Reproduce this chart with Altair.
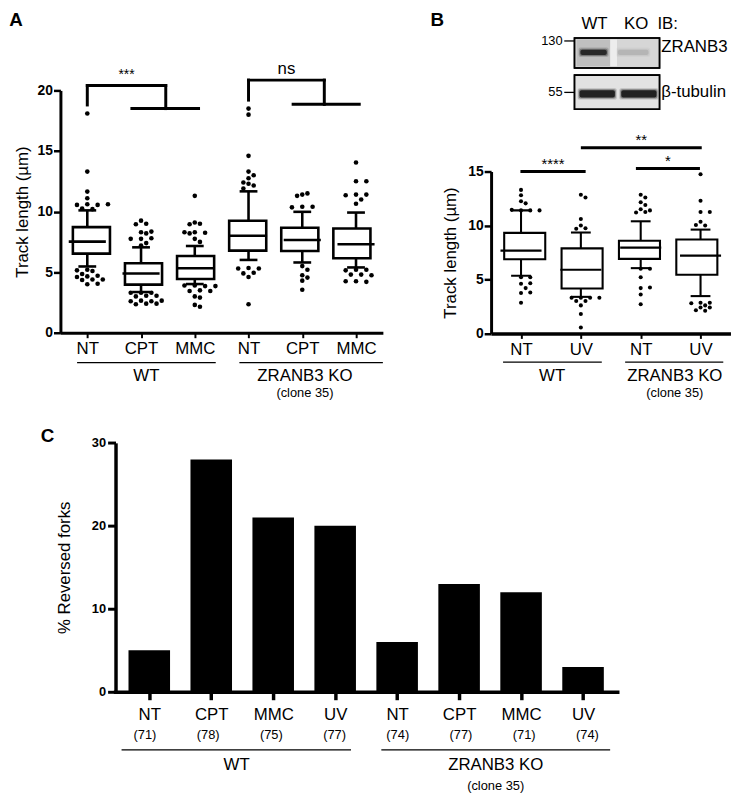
import json
import altair as alt
import pandas as pd

FONT = "Liberation Sans"
W, H = 736, 787


def P(v):
    """page pixel -> plot pixel (page has an 8px margin)"""
    return v - 8


# ---------------- Panel A : track length, CPT / MMC ----------------
a_treat = ["NT", "CPT", "MMC", "NT", "CPT", "MMC"]
a_wlo = [5.47, 3.36, 4.02, 6.01, 5.80, 5.39]
a_q1 = [6.53, 3.97, 4.43, 6.78, 6.75, 6.15]
a_med = [7.52, 4.89, 5.33, 8.00, 7.66, 7.30]
a_q3 = [8.72, 5.74, 6.34, 9.24, 8.66, 8.60]
a_whi = [10.10, 7.05, 7.16, 11.67, 9.98, 9.92]
a_out = [
    [18.1, 13.3, 11.65, 11.1, 10.6, 10.55, 10.55, 10.6, 10.2, 10.25,
     5.2, 5.1, 5.15, 4.85, 4.65, 4.7, 4.6, 4.4, 4.35, 4.4, 4.0, 4.05],
    [9.25, 9.0, 8.95, 8.3, 8.2, 8.35, 7.75, 7.8, 7.75, 7.4, 7.2,
     3.3, 3.3, 3.3, 3.05, 3.0, 3.05, 2.65, 2.6, 2.6, 2.65, 2.4, 2.35, 2.4],
    [11.3, 9.1, 9.0, 8.95, 8.3, 8.25, 8.3, 8.2, 7.75, 7.5,
     3.9, 3.85, 3.9, 3.85, 3.5, 3.45, 3.45, 3.0, 2.9, 2.3, 2.15],
    [18.5, 18.0, 14.6, 13.3, 13.0, 12.75, 12.3, 12.15, 12.4, 11.9,
     5.35, 5.3, 5.3, 4.95, 4.9, 4.6, 2.35],
    [11.4, 11.5, 11.3, 10.4, 10.4, 10.35,
     5.5, 5.2, 4.75, 4.55, 4.3, 3.55],
    [14.05, 12.5, 12.5, 11.4, 11.4, 11.35, 11.0, 10.65,
     5.2, 5.2, 5.15, 4.8, 4.8, 4.75, 4.25, 4.2, 4.25],
]
a_sig_label = ["***", "ns"]
a_sig_left = [1.0, 4.0]
a_sig_join = [2.46, 5.41]
a_sig_top = [20.4, 20.85]
a_sig_leg_bottom = [18.8, 19.2]
a_sig_bar = [18.5, 18.85]
a_sig_bar_from = [1.83, 4.83]
a_sig_bar_to = [3.07, 6.06]
a_groups = ["WT", "ZRANB3 KO"]
a_group_from = [0.81, 3.83]
a_group_to = [3.39, 6.5]
a_group_text_x = [2.1, 5.05]

# ---------------- Panel B : track length, UV ----------------
b_treat = ["NT", "UV", "NT", "UV"]
b_wlo = [5.35, 3.39, 6.05, 3.46]
b_q1 = [6.88, 4.16, 6.91, 5.44]
b_med = [7.67, 5.90, 7.95, 7.21]
b_q3 = [9.32, 7.88, 8.59, 8.71]
b_whi = [11.40, 9.35, 10.39, 9.62]
b_out = [
    [13.3, 12.8, 12.25, 12.05, 11.4, 11.4, 11.45, 11.4,
     5.2, 5.2, 4.6, 4.65, 4.2, 3.75, 3.8, 2.85],
    [12.85, 12.6, 10.6, 10.0, 9.75, 9.7,
     3.3, 3.3, 3.3, 3.3, 3.0, 3.0, 2.6, 1.8, 0.55],
    [12.85, 12.6, 12.15, 11.9, 11.5, 11.25, 11.2, 11.4,
     6.0, 6.0, 5.2, 4.2, 4.25, 3.6, 2.7],
    [14.75, 12.3, 11.25, 11.25, 10.35, 10.0, 10.05,
     2.85, 2.85, 2.8, 2.4, 2.4, 2.1, 2.15, 2.6],
]
b_sig_label = ["****", "*", "**"]
b_sig_from = [0.99, 2.92, 2.0]
b_sig_to = [2.08, 3.99, 4.02]
b_sig_y = [15.0, 15.28, 17.2]
b_groups = ["WT", "ZRANB3 KO"]
b_group_from = [0.70, 2.74]
b_group_to = [2.35, 4.38]
b_group_text_x = [1.52, 3.57]

# ---------------- Panel C : reversed forks ----------------
c_treat = ["NT", "CPT", "MMC", "UV", "NT", "CPT", "MMC", "UV"]
c_n = [71, 78, 75, 77, 74, 77, 71, 74]
c_values = [5, 28, 21, 20, 6, 13, 12, 3]
c_groups = ["WT", "ZRANB3 KO"]
c_group_from = [0.63, 4.74]
c_group_to = [4.26, 8.36]
c_group_text_x = [2.45, 6.55]

# ---------------- Western blot (panel B inset) ----------------
blot_lanes = ["WT", "KO"]
blot_proteins = ["ZRANB3", "β-tubulin"]
blot_markers = ["130", "55"]
blot_signal = [[0.9, 0.12], [1.0, 1.0]]


# ======================================================================
def swarm(vals, xpx, ypx, d):
    placed, offs = [], []
    for v in vals:
        y = v * ypx
        cands = [0.0]
        for i in range(1, 30):
            cands += [i * d * 0.9, -i * d * 0.9]
        for c in cands:
            if all((c - px) ** 2 + (y - py) ** 2 >= (d * 0.92) ** 2 for px, py in placed):
                break
        placed.append((c, y))
        offs.append(c / xpx)
    return offs


def enc(xs, ys):
    X = lambda f, **k: alt.X(f, scale=xs, axis=k.get("axis", None), title=None)
    Y = lambda f, **k: alt.Y(f, scale=ys, axis=k.get("axis", None), title=None)
    return X, Y


def box_panel(treat, wlo, q1, med, q3, whi, outs, xs, ys, xpx, ypx, boxw, capw,
              lw, dot, yvals, ytitle, xaxis_off, yaxis_off, title_pad, xlab_pad,
              ydomw, xdomw):
    n = len(treat)
    pos = list(range(1, n + 1))
    X, Y = enc(xs, ys)
    boxes = pd.DataFrame({"pos": pos, "q1": q1, "q3": q3, "med": med,
                          "wlo": wlo, "whi": whi})
    wh = pd.DataFrame({"pos": pos + pos, "lo": q3 + wlo, "hi": whi + q1})
    caps = pd.DataFrame({"pos": pos + pos, "v": wlo + whi})
    prow = []
    for i, vals in enumerate(outs):
        for off, v in zip(swarm(vals, xpx, ypx, dot + 0.6), vals):
            prow.append({"x": i + 1 + off, "v": v})
    pts = pd.DataFrame(prow)
    lab = json.dumps(treat)
    xaxis = alt.Axis(orient="bottom", offset=xaxis_off, values=pos,
                     labelExpr=f"{lab}[datum.value - 1]", grid=False,
                     domainColor="black", domainWidth=xdomw, tickColor="black",
                     tickWidth=2, tickSize=5, labelFont=FONT, labelFontSize=17,
                     labelColor="black", labelPadding=xlab_pad, labelFlush=False,
                     labelOverlap=False, title=None, zindex=1)
    yaxis = alt.Axis(orient="left", offset=yaxis_off, values=yvals, grid=False,
                     domainColor="black", domainWidth=ydomw, tickColor="black",
                     tickWidth=2.5, tickSize=7, labelFont=FONT, labelFontSize=14,
                     labelFontWeight="bold", labelColor="black", labelPadding=1,
                     labelFlush=False, labelOverlap=False, title=ytitle,
                     titleFont=FONT, titleFontSize=17, titleFontWeight="normal",
                     titleColor="black", titlePadding=title_pad, zindex=1)
    l_wh = alt.Chart(wh).mark_rule(color="black", strokeWidth=lw).encode(
        x=X("pos:Q", axis=xaxis), y=Y("lo:Q", axis=yaxis), y2="hi:Q")
    l_box = alt.Chart(boxes).mark_bar(size=boxw, fill="white", stroke="black",
                                      strokeWidth=lw).encode(
        x=X("pos:Q"), y=Y("q1:Q"), y2="q3:Q")
    l_med = alt.Chart(boxes).mark_tick(orient="horizontal", size=boxw, thickness=lw,
                                       color="black", opacity=1).encode(
        x=X("pos:Q"), y=Y("med:Q"))
    l_cap = alt.Chart(caps).mark_tick(orient="horizontal", size=capw, thickness=lw,
                                      color="black", opacity=1).encode(
        x=X("pos:Q"), y=Y("v:Q"))
    l_pts = alt.Chart(pts).mark_circle(size=dot * dot * 0.8, color="black",
                                       opacity=1).encode(x=X("x:Q"), y=Y("v:Q"))
    return [l_wh, l_box, l_med, l_cap, l_pts], X, Y


def group_labels(groups, gfrom, gto, gtext, X, Y, yline, dy_text, dy_clone):
    g = pd.DataFrame({"g": groups, "x1": gfrom, "x2": gto, "xt": gtext,
                      "y": [0] * len(groups), "yl": [yline] * len(groups)})
    out = [
        alt.Chart(g).mark_rule(color="black", strokeWidth=1.3).encode(
            x=X("x1:Q"), x2="x2:Q", y=Y("yl:Q")),
        alt.Chart(g).mark_text(font=FONT, fontSize=17, dy=dy_text, color="black").encode(
            x=X("xt:Q"), y=Y("y:Q"), text="g:N"),
        alt.Chart(g[g.g != "WT"]).mark_text(font=FONT, fontSize=13, dy=dy_clone,
                                            color="black").encode(
            x=X("xt:Q"), y=Y("y:Q"), text=alt.value("(clone 35)")),
    ]
    return out


# ---------------- Panel A build ----------------
xA = alt.Scale(domain=[0.5, 6.5], range=[P(61), P(387)], nice=False, zero=False)
yA = alt.Scale(domain=[0, 20], range=[P(332), P(87)], nice=False, zero=False)
layersA, XA, YA = box_panel(a_treat, a_wlo, a_q1, a_med, a_q3, a_whi, a_out, xA, yA,
                            54.33, 12.25, 37.5, 18, 2.6, 5.2, [0, 5, 10, 15, 20],
                            "Track length (µm)", P(332) - H, -P(61), 6, 3, 3, 3)
segA = []
for i in range(len(a_sig_label)):
    segA += [
        dict(x=a_sig_left[i], x2=a_sig_left[i], y=a_sig_leg_bottom[i], y2=a_sig_top[i]),
        dict(x=a_sig_left[i], x2=a_sig_join[i], y=a_sig_top[i], y2=a_sig_top[i]),
        dict(x=a_sig_join[i], x2=a_sig_join[i], y=a_sig_top[i], y2=a_sig_bar[i]),
        dict(x=a_sig_bar_from[i], x2=a_sig_bar_to[i], y=a_sig_bar[i], y2=a_sig_bar[i]),
    ]
segA = pd.DataFrame(segA)
sigA = pd.DataFrame({"label": a_sig_label,
                     "x": [(l + j) / 2 for l, j in zip(a_sig_left, a_sig_join)],
                     "y": a_sig_top})
sigA["fs"] = [14 if "*" in s else 17 for s in a_sig_label]
layersA.append(alt.Chart(segA).mark_rule(color="black", strokeWidth=3,
                                         strokeCap="square").encode(
    x=XA("x:Q"), x2="x2:Q", y=YA("y:Q"), y2="y2:Q"))
layersA.append(alt.Chart(sigA).mark_text(font=FONT, dy=-11, color="black").encode(
    x=XA("x:Q"), y=YA("y:Q"), text="label:N", size=alt.Size("fs:Q", scale=None)))
layersA += group_labels(a_groups, a_group_from, a_group_to, a_group_text_x, XA, YA,
                        -2.47, 44, 61)

# ---------------- Panel B build ----------------
xB = alt.Scale(domain=[0.5, 4.5], range=[P(496.4), P(738.4)], nice=False, zero=False)
yB = alt.Scale(domain=[0, 15], range=[P(332.7), P(169)], nice=False, zero=False)
layersB, XB, YB = box_panel(b_treat, b_wlo, b_q1, b_med, b_q3, b_whi, b_out, xB, yB,
                            60.5, 10.91, 41.5, 20, 2.1, 4.6, [0, 5, 10, 15],
                            "Track length (µm)", P(332.7) - H, -P(496.4), 8, 3, 3, 3.5)
sigB = pd.DataFrame({"label": b_sig_label, "x1": b_sig_from, "x2": b_sig_to,
                     "y": b_sig_y})
sigB["xm"] = (sigB.x1 + sigB.x2) / 2
layersB.append(alt.Chart(sigB).mark_rule(color="black", strokeWidth=3).encode(
    x=XB("x1:Q"), x2="x2:Q", y=YB("y:Q")))
layersB.append(alt.Chart(sigB).mark_text(font=FONT, fontSize=15, dy=-8, color="black").encode(
    x=XB("xm:Q"), y=YB("y:Q"), text="label:N"))
layersB += group_labels(b_groups, b_group_from, b_group_to, b_group_text_x, XB, YB,
                        -2.66, 43, 60)

# ---------------- Panel C build ----------------
xC = alt.Scale(domain=[0.5, 8.5], range=[P(114.5), P(625.7)], nice=False, zero=False)
yC = alt.Scale(domain=[0, 30], range=[P(695), P(443.3)], nice=False, zero=False)
XC, YC = enc(xC, yC)
posC = list(range(1, len(c_treat) + 1))
dfC = pd.DataFrame({"pos": posC, "v": c_values, "n": [f"({k})" for k in c_n],
                    "zero": [0] * len(posC)})
labC = json.dumps(c_treat)
xaxisC = alt.Axis(orient="bottom", offset=P(695) - H, values=posC,
                  labelExpr=f"{labC}[datum.value - 1]", grid=False,
                  domainColor="black", domainWidth=3.5, tickColor="black", tickWidth=3.5,
                  tickSize=8, labelFont=FONT, labelFontSize=17, labelColor="black",
                  labelPadding=7, labelFlush=False, labelOverlap=False, title=None,
                  zindex=1)
yaxisC = alt.Axis(orient="left", offset=-P(116.7), values=[0, 10, 20, 30], grid=False,
                  domainColor="black", domainWidth=3.5, tickColor="black", tickWidth=3,
                  tickSize=8, labelFont=FONT, labelFontSize=13, labelFontWeight="bold",
                  labelColor="black", labelPadding=2, labelFlush=False,
                  labelOverlap=False, title="% Reversed forks", titleFont=FONT,
                  titleFontSize=17, titleFontWeight="normal", titleColor="black",
                  titlePadding=18, zindex=1)
layersC = [
    alt.Chart(dfC).mark_bar(size=42, color="black").encode(
        x=XC("pos:Q", axis=xaxisC), y=YC("v:Q", axis=yaxisC), y2="zero:Q"),
    alt.Chart(dfC).mark_text(font=FONT, fontSize=13, dy=44, color="black").encode(
        x=XC("pos:Q"), y=YC("zero:Q"), text="n:N"),
]
layersC += group_labels(c_groups, c_group_from, c_group_to, c_group_text_x, XC, YC,
                        -7.0, 74, 95)

# ---------------- Blot build ----------------
xW = alt.Scale(domain=[0, 2], range=[P(580.7), P(666.7)], nice=False, zero=False)
yW = alt.Scale(domain=[0, 72], range=[P(34), P(106)], nice=False, zero=False)
XW, YW = enc(xW, yW)
row_box = [(0, 30.3), (37.5, 72)]
band_center = [14.5, 56.5]
band_half = [2.6, 3.6]
label_y = [9, 55]
lane_x = [[(0.14, 0.76), (1.02, 1.74)], [(0.12, 0.95), (1.1, 1.93)]]
marker_y = [3, 55]
boxes_w = pd.DataFrame({"x1": [0, 0], "x2": [2, 2],
                        "y1": [b[0] for b in row_box], "y2": [b[1] for b in row_box],
                        "c": ["#d6d6d6", "#e2e2e2"]})
smear = pd.DataFrame({"x1": [0.05, 0.84], "x2": [0.84, 1.0], "y1": [1.5, 1.5],
                      "y2": [28.5, 28.5], "c": ["#b9b9b9", "#f2f2f2"]})
bands = []
for r in range(len(blot_proteins)):
    for l in range(len(blot_lanes)):
        s = blot_signal[r][l]
        x1, x2 = lane_x[r][l]
        for grow, op in [(2.2, 0.18), (1.1, 0.35), (0.0, 0.85)]:
            bands.append(dict(x1=x1 - grow * 0.02, x2=x2 + grow * 0.02,
                              y1=band_center[r] - band_half[r] - grow,
                              y2=band_center[r] + band_half[r] + grow, op=op * s))
bands = pd.DataFrame(bands)
lbl_w = pd.DataFrame({"t": blot_lanes + ["IB:"], "x": [0.47, 1.45, 1.95],
                      "y": [-14, -14, -14], "al": ["center", "center", "left"]})
prot_w = pd.DataFrame({"t": blot_proteins, "x": [2.04, 2.04], "y": label_y})
mk_w = pd.DataFrame({"t": blot_markers, "y": marker_y, "x1": [-0.24, -0.24],
                     "x2": [0, 0]})
layersW = [
    alt.Chart(boxes_w).mark_rect(stroke="black", strokeWidth=1.5).encode(
        x=XW("x1:Q"), x2="x2:Q", y=YW("y1:Q"), y2="y2:Q",
        fill=alt.Fill("c:N", scale=None)),
    alt.Chart(smear).mark_rect(opacity=0.8).encode(
        x=XW("x1:Q"), x2="x2:Q", y=YW("y1:Q"), y2="y2:Q",
        color=alt.Color("c:N", scale=None)),
    alt.Chart(bands).mark_rect(color="#111111", cornerRadius=2).encode(
        x=XW("x1:Q"), x2="x2:Q", y=YW("y1:Q"), y2="y2:Q",
        opacity=alt.Opacity("op:Q", scale=None)),
    alt.Chart(boxes_w).mark_rect(fill=None, stroke="black", strokeWidth=1.6).encode(
        x=XW("x1:Q"), x2="x2:Q", y=YW("y1:Q"), y2="y2:Q"),
    alt.Chart(lbl_w[lbl_w.al == "center"]).mark_text(font=FONT, fontSize=17,
                                                     color="black").encode(
        x=XW("x:Q"), y=YW("y:Q"), text="t:N"),
    alt.Chart(lbl_w[lbl_w.al == "left"]).mark_text(font=FONT, fontSize=17, color="black",
                                                   align="left").encode(
        x=XW("x:Q"), y=YW("y:Q"), text="t:N"),
    alt.Chart(prot_w).mark_text(font=FONT, fontSize=17, color="black", align="left").encode(
        x=XW("x:Q"), y=YW("y:Q"), text="t:N"),
    alt.Chart(mk_w).mark_rule(color="black", strokeWidth=1.3).encode(
        x=XW("x1:Q"), x2="x2:Q", y=YW("y:Q")),
    alt.Chart(mk_w).mark_text(font=FONT, fontSize=13, color="black", align="right",
                              dx=-12).encode(x=XW("x2:Q"), y=YW("y:Q"), text="t:N"),
]


# ---------------- panel letters ----------------
def letter(t, x, y):
    return alt.Chart(pd.DataFrame({"t": [t]})).mark_text(
        font=FONT, fontSize=19, fontWeight="bold", color="black").encode(
        x=alt.value(P(x)), y=alt.value(P(y)), text="t:N")


chart = alt.layer(
    *layersA, *layersB, *layersC, *layersW,
    letter("A", 16, 16), letter("B", 442, 16), letter("C", 48, 436),
).resolve_scale(x="independent", y="independent").properties(
    width=W, height=H, padding=0,
    autosize=alt.AutoSizeParams(type="none"),
).configure_view(stroke=None)

chart.save("out.html", embed_options={"renderer": "svg", "actions": False})
